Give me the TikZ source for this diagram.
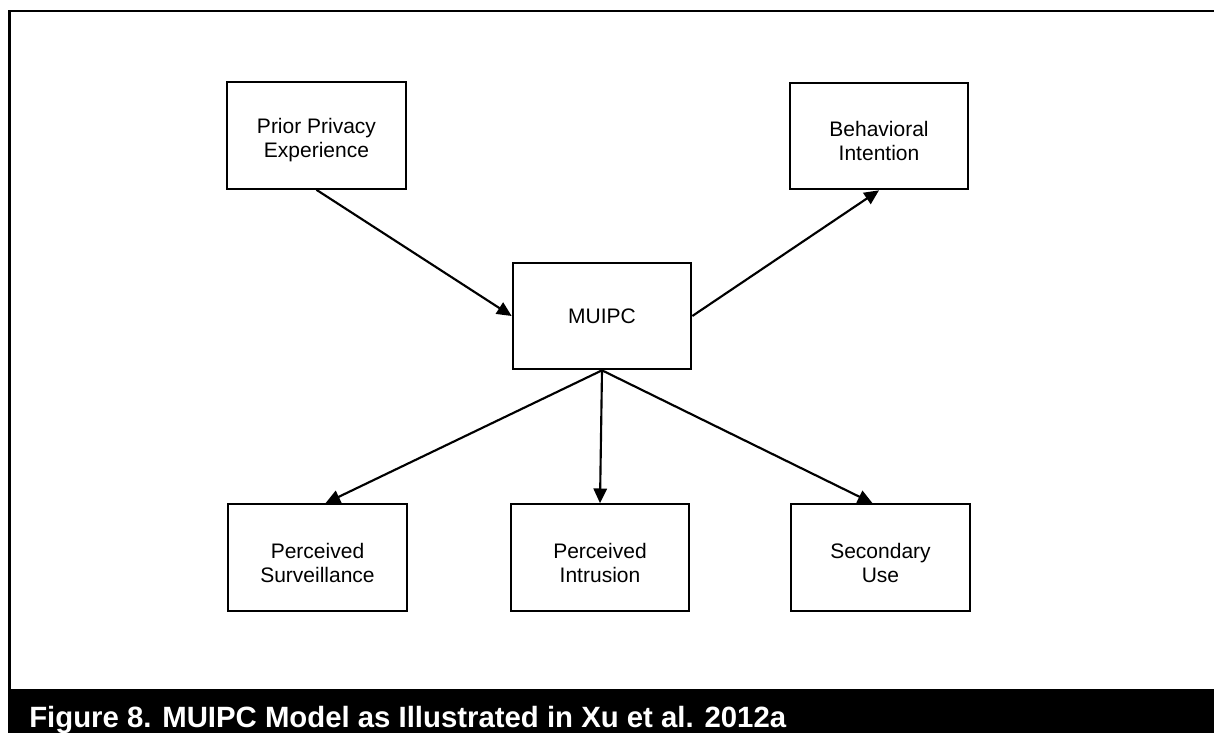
\documentclass[tikz,border=0pt]{standalone}
\usepackage{fontspec}
\setmainfont{Liberation Sans}
\usetikzlibrary{arrows.meta}
\newcommand\toplift{\rule{0pt}{19pt}}
\begin{document}
\begin{tikzpicture}[x=0.75pt,y=-0.75pt,
  box/.style={draw, line width=1.5pt, minimum width=134pt, minimum height=80pt,
    inner sep=0pt, align=center, font=\fontsize{15.75}{18}\selectfont},
  link/.style={line width=1.6pt, -{Triangle[length=11pt,width=10pt]}},
  frame/.style={line width=1.9pt},
  captext/.style={anchor=base west, text=white, inner sep=0pt,
    font=\bfseries\fontsize{22}{26}\selectfont}
]
\useasboundingbox (0,0) rectangle (1214,733);
\fill[black] (8,689) rectangle (1214,733);
\draw[frame] (9.5,689) -- (9.5,11) -- (1214,11);
\node[captext] (caption) at (29,727) {Figure 8. MUIPC Model as Illustrated in Xu et al. 2012a};

\node[box] (prior) at (316.5,135.5) {\toplift Prior Privacy\\Experience};
\node[box] (beh)   at (879,136)     {\toplift Behavioral\\Intention};
\node[box] (muipc) at (602,316)     {MUIPC};
\node[box] (surv)  at (317.5,557.5) {\toplift Perceived\\Surveillance};
\node[box] (intr)  at (600,557.5)   {\toplift Perceived\\Intrusion};
\node[box] (sec)   at (880.5,557.5) {\toplift Secondary\\Use};

\draw[link] (prior.south) -- (muipc.west);
\draw[link] (muipc.east) -- (beh.south);
\draw[link] (muipc.south) -- ([xshift=6pt]surv.north);
\draw[link] (muipc.south) -- (intr.north);
\draw[link] (muipc.south) -- ([xshift=-6pt]sec.north);
\end{tikzpicture}
\end{document}
